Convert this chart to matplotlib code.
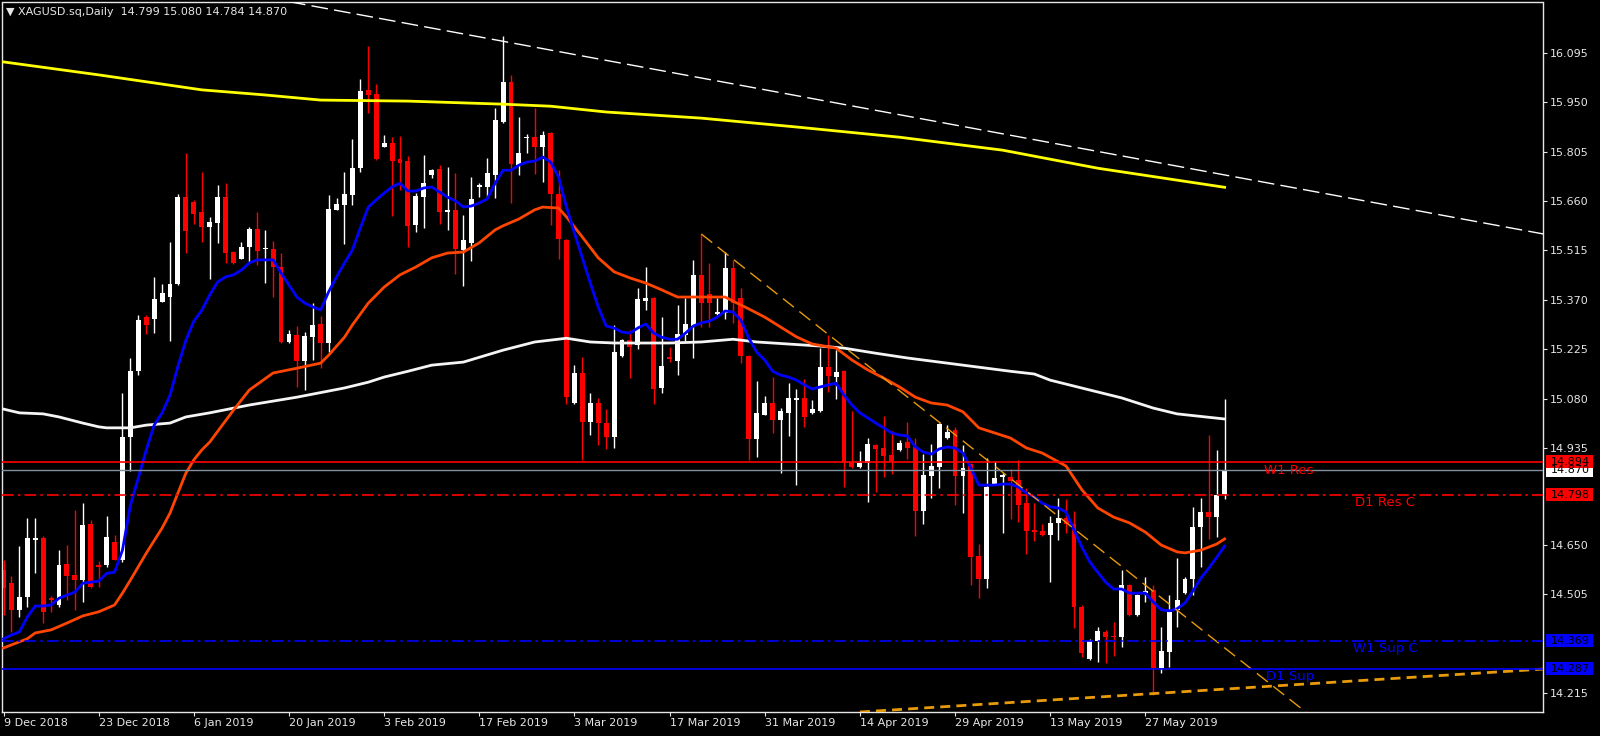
import matplotlib
matplotlib.use('Agg')
import matplotlib.pyplot as plt
import matplotlib.transforms as mtransforms
from matplotlib.patches import Rectangle
import numpy as np

# XAGUSD daily candles (bar 0 = 9 Dec 2018), prices
opens = [14.576, 14.538, 14.460, 14.497, 14.665, 14.670, 14.494, 14.474, 14.594, 14.562,
         14.547, 14.712, 14.591, 14.591, 14.659, 14.606, 14.967, 15.160, 15.319, 15.313,
         15.363, 15.378, 15.416, 15.671, 15.657, 15.628, 15.584, 15.595, 15.671, 15.510,
         15.490, 15.525, 15.578, 15.519, 15.519, 15.466, 15.246, 15.266, 15.190, 15.260,
         15.299, 15.243, 15.634, 15.648, 15.677, 15.756, 15.986, 15.974, 15.818, 15.830,
         15.783, 15.777, 15.590, 15.671, 15.736, 15.753, 15.628, 15.634, 15.516, 15.537,
         15.700, 15.700, 15.736, 15.891, 16.009, 15.765, 15.844, 15.847, 15.818, 15.859,
         15.680, 15.546, 15.067, 15.154, 15.011, 15.067, 15.008, 14.967, 15.204, 15.252,
         15.237, 15.366, 15.375, 15.111, 15.201, 15.190, 15.266, 15.293, 15.443, 15.387,
         15.328, 15.331, 15.463, 15.375, 15.204, 14.961, 15.032, 15.067, 15.017, 15.038,
         15.076, 15.082, 15.038, 15.044, 15.172, 15.143, 15.160, 14.894, 14.879, 14.891,
         14.944, 14.935, 14.914, 14.929, 14.952, 14.938, 14.750, 14.853, 14.879, 14.964,
         14.988, 14.853, 14.888, 14.617, 14.550, 14.829, 14.850, 14.850, 14.841, 14.773,
         14.694, 14.691, 14.679, 14.715, 14.729, 14.712, 14.468, 14.316, 14.369, 14.395,
         14.383, 14.381, 14.532, 14.445, 14.509, 14.518, 14.289, 14.336, 14.460, 14.509,
         14.550, 14.703, 14.747, 14.732, 14.799]
highs = [14.606, 14.559, 14.647, 14.729, 14.729, 14.676, 14.500, 14.635, 14.650, 14.753,
         14.773, 14.723, 14.603, 14.735, 14.679, 15.096, 15.199, 15.325, 15.325, 15.437,
         15.416, 15.540, 15.680, 15.800, 15.663, 15.744, 15.613, 15.706, 15.712, 15.513,
         15.540, 15.584, 15.628, 15.575, 15.543, 15.507, 15.281, 15.293, 15.275, 15.360,
         15.322, 15.677, 15.668, 15.744, 15.842, 16.018, 16.115, 16.003, 15.853, 15.847,
         15.850, 15.792, 15.683, 15.794, 15.753, 15.765, 15.759, 15.742, 15.619, 15.730,
         15.712, 15.786, 15.933, 16.144, 16.030, 15.906, 15.856, 15.933, 15.865, 15.862,
         15.750, 15.549, 15.178, 15.201, 15.096, 15.082, 15.050, 15.296, 15.254, 15.281,
         15.404, 15.466, 15.378, 15.319, 15.231, 15.354, 15.375, 15.487, 15.563, 15.478,
         15.375, 15.510, 15.487, 15.404, 15.207, 15.131, 15.087, 15.143, 15.052, 15.125,
         15.108, 15.137, 15.076, 15.228, 15.266, 15.222, 15.163, 15.044, 14.926, 14.964,
         14.946, 15.029, 14.985, 14.958, 15.011, 14.964, 14.917, 14.946, 15.008, 15.002,
         14.997, 14.944, 14.891, 14.653, 14.905, 14.897, 14.861, 14.873, 14.900, 14.817,
         14.773, 14.712, 14.735, 14.788, 14.785, 14.750, 14.474, 14.375, 14.410, 14.401,
         14.424, 14.576, 14.535, 14.506, 14.556, 14.532, 14.410, 14.503, 14.612, 14.556,
         14.762, 14.788, 14.973, 14.929, 15.080]
lows = [14.445, 14.395, 14.439, 14.468, 14.567, 14.421, 14.454, 14.468, 14.489, 14.460,
        14.483, 14.523, 14.526, 14.585, 14.606, 14.600, 14.867, 15.149, 15.269, 15.272,
        15.363, 15.249, 15.413, 15.507, 15.593, 15.540, 15.431, 15.537, 15.478, 15.475,
        15.490, 15.478, 15.472, 15.419, 15.378, 15.243, 15.243, 15.113, 15.105, 15.193,
        15.169, 15.216, 15.634, 15.534, 15.648, 15.744, 15.918, 15.780, 15.818, 15.616,
        15.692, 15.525, 15.569, 15.581, 15.727, 15.593, 15.575, 15.446, 15.410, 15.484,
        15.671, 15.668, 15.668, 15.888, 15.654, 15.736, 15.800, 15.739, 15.715, 15.590,
        15.490, 15.064, 15.064, 14.900, 14.973, 14.944, 14.932, 14.935, 15.201, 15.140,
        15.225, 15.340, 15.064, 15.096, 15.187, 15.149, 15.249, 15.199, 15.290, 15.290,
        15.325, 15.313, 15.302, 15.184, 14.900, 14.908, 15.032, 14.979, 14.861, 14.970,
        14.826, 14.997, 15.035, 15.041, 15.099, 15.079, 14.820, 14.876, 14.876, 14.776,
        14.805, 14.850, 14.858, 14.926, 14.903, 14.676, 14.712, 14.788, 14.817, 14.961,
        14.767, 14.744, 14.532, 14.494, 14.523, 14.826, 14.685, 14.726, 14.717, 14.623,
        14.662, 14.676, 14.541, 14.665, 14.685, 14.407, 14.321, 14.313, 14.307, 14.304,
        14.324, 14.351, 14.442, 14.442, 14.483, 14.210, 14.274, 14.292, 14.410, 14.506,
        14.503, 14.585, 14.668, 14.673, 14.784]
closes = [14.523, 14.460, 14.497, 14.670, 14.670, 14.454, 14.489, 14.591, 14.559, 14.547,
          14.709, 14.526, 14.585, 14.673, 14.606, 14.967, 15.160, 15.310, 15.296, 15.372,
          15.390, 15.416, 15.671, 15.572, 15.622, 15.584, 15.598, 15.671, 15.507, 15.478,
          15.525, 15.578, 15.513, 15.522, 15.466, 15.246, 15.269, 15.190, 15.263, 15.296,
          15.243, 15.637, 15.651, 15.680, 15.756, 15.983, 15.971, 15.783, 15.830, 15.777,
          15.771, 15.587, 15.674, 15.712, 15.750, 15.628, 15.634, 15.519, 15.546, 15.666,
          15.706, 15.742, 15.897, 16.009, 15.768, 15.800, 15.849, 15.818, 15.853, 15.680,
          15.549, 15.084, 15.154, 15.011, 15.067, 15.008, 14.967, 15.216, 15.252, 15.231,
          15.372, 15.375, 15.108, 15.175, 15.196, 15.269, 15.299, 15.443, 15.360, 15.360,
          15.334, 15.463, 15.360, 15.204, 14.961, 15.038, 15.067, 15.017, 15.044, 15.082,
          15.082, 15.026, 15.050, 15.172, 15.146, 15.157, 14.891, 14.879, 14.891, 14.946,
          14.932, 14.911, 14.897, 14.950, 14.935, 14.750, 14.856, 14.882, 15.005, 14.982,
          14.853, 14.876, 14.614, 14.550, 14.820, 14.847, 14.856, 14.838, 14.767, 14.691,
          14.688, 14.679, 14.715, 14.729, 14.712, 14.468, 14.333, 14.369, 14.398, 14.381,
          14.379, 14.532, 14.445, 14.503, 14.515, 14.289, 14.339, 14.454, 14.489, 14.550,
          14.703, 14.747, 14.732, 14.797, 14.870]

# fast MA (blue), one value per bar
blue_ma = [14.375, 14.386, 14.395, 14.439, 14.471, 14.471, 14.474, 14.494, 14.503, 14.512,
           14.538, 14.541, 14.544, 14.567, 14.570, 14.635, 14.767, 14.847, 14.929, 15.002,
           15.038, 15.090, 15.175, 15.251, 15.307, 15.339, 15.384, 15.422, 15.437, 15.443,
           15.457, 15.478, 15.487, 15.487, 15.487, 15.449, 15.413, 15.378, 15.360, 15.349,
           15.340, 15.393, 15.437, 15.478, 15.516, 15.581, 15.642, 15.663, 15.683, 15.701,
           15.712, 15.689, 15.689, 15.698, 15.701, 15.686, 15.671, 15.660, 15.642, 15.645,
           15.654, 15.666, 15.712, 15.750, 15.750, 15.765, 15.774, 15.777, 15.789, 15.774,
           15.730, 15.642, 15.566, 15.493, 15.419, 15.349, 15.293, 15.287, 15.275, 15.272,
           15.287, 15.299, 15.272, 15.260, 15.254, 15.254, 15.272, 15.293, 15.302, 15.307,
           15.319, 15.337, 15.334, 15.310, 15.257, 15.216, 15.193, 15.160, 15.149, 15.143,
           15.134, 15.120, 15.108, 15.114, 15.120, 15.125, 15.090, 15.061, 15.038, 15.023,
           15.008, 14.994, 14.979, 14.973, 14.970, 14.938, 14.923, 14.917, 14.932, 14.938,
           14.935, 14.920, 14.876, 14.826, 14.826, 14.826, 14.829, 14.829, 14.820, 14.803,
           14.791, 14.773, 14.762, 14.759, 14.747, 14.694, 14.644, 14.600, 14.570, 14.541,
           14.521, 14.521, 14.509, 14.509, 14.509, 14.483, 14.460, 14.457, 14.463, 14.480,
           14.515, 14.553, 14.582, 14.614, 14.647]

# slower MA (orange-red), read at selected bars
orange_bars = [0, 3, 4, 6, 8, 10, 12, 14, 15, 16, 18, 20, 21, 22, 23, 24, 25, 26, 29, 31,
               34, 37, 40, 41, 43, 44, 46, 48, 50, 52, 54, 56, 58, 60, 62, 63, 65, 67, 68, 70,
               71, 73, 75, 77, 79, 81, 83, 85, 87, 89, 91, 92, 94, 96, 98, 100, 102, 105, 107,
               109, 111, 113, 115, 117, 119, 121, 123, 125, 127, 129, 131, 134, 136, 138, 140,
               142, 144, 146, 148, 149, 151, 153, 154]
orange_ma = [14.348, 14.375, 14.392, 14.401, 14.421, 14.442, 14.454, 14.474, 14.509, 14.547,
             14.626, 14.700, 14.744, 14.803, 14.861, 14.900, 14.929, 14.952, 15.046, 15.105,
             15.155, 15.169, 15.184, 15.207, 15.260, 15.296, 15.360, 15.407, 15.443, 15.466,
             15.493, 15.507, 15.510, 15.537, 15.575, 15.587, 15.607, 15.634, 15.642, 15.639,
             15.613, 15.554, 15.493, 15.452, 15.434, 15.419, 15.399, 15.378, 15.378, 15.378,
             15.378, 15.366, 15.343, 15.319, 15.290, 15.261, 15.240, 15.228, 15.193, 15.164,
             15.140, 15.114, 15.084, 15.067, 15.061, 15.041, 14.994, 14.979, 14.964, 14.935,
             14.920, 14.882, 14.812, 14.759, 14.732, 14.715, 14.688, 14.650, 14.630, 14.627,
             14.635, 14.653, 14.668]

# long MA (white)
white_bars = [0, 2, 5, 7, 10, 12, 13, 16, 18, 21, 23, 26, 31, 37, 43, 46, 48, 51, 54, 58,
              63, 67, 71, 74, 77, 80, 84, 88, 92, 95, 99, 103, 106, 110, 114, 118, 123, 127,
              130, 132, 137, 141, 145, 148, 154]
white_ma = [15.049, 15.038, 15.035, 15.026, 15.008, 14.997, 14.994, 14.994, 15.002, 15.008,
            15.026, 15.038, 15.061, 15.084, 15.111, 15.128, 15.143, 15.160, 15.178, 15.187,
            15.222, 15.246, 15.257, 15.246, 15.243, 15.243, 15.243, 15.246, 15.254, 15.246,
            15.240, 15.234, 15.228, 15.213, 15.199, 15.187, 15.172, 15.160, 15.152, 15.134,
            15.105, 15.082, 15.052, 15.035, 15.020]

# longest MA (yellow)
yellow_bars = [0, 12, 25, 33, 40, 51, 63, 69, 76, 88, 100, 113, 126, 138, 154]
yellow_ma = [16.068, 16.030, 15.986, 15.971, 15.956, 15.953, 15.944, 15.938, 15.921, 15.903,
             15.877, 15.847, 15.809, 15.756, 15.700]

# trend lines: (bar, price) end points
tl_white_bars = [36, 194.2]
tl_white_prices = [16.245, 15.563]
tl_down_bars = [88, 164.5]
tl_down_prices = [15.563, 14.155]
tl_up_bars = [108, 194.2]
tl_up_prices = [14.160, 14.286]

# support / resistance levels
levels = [14.894, 14.798, 14.369, 14.287]
level_names = ['W1 Res', 'D1 Res C', 'W1 Sup C', 'D1 Sup']
level_colors = ['#FF0000', '#FF0000', '#0000FF', '#0000FF']
level_styles = ['-', (0, (7, 2.5, 1.5, 2.5)), (0, (7, 2.5, 1.5, 2.5)), '-']
label_bars = [159, 170.4, 170.2, 159.2]
bid = 14.870

yticks = [16.095, 15.950, 15.805, 15.660, 15.515, 15.370, 15.225, 15.080, 14.935,
          14.650, 14.505, 14.215]
tick_bars = [0, 12, 24, 36, 48, 60, 72, 84, 96, 108, 120, 132, 144]
tick_labels = ['9 Dec 2018', '23 Dec 2018', '6 Jan 2019', '20 Jan 2019', '3 Feb 2019',
               '17 Feb 2019', '3 Mar 2019', '17 Mar 2019', '31 Mar 2019', '14 Apr 2019',
               '29 Apr 2019', '13 May 2019', '27 May 2019']

fg = '#E6E6E6'
fig = plt.figure(figsize=(16, 7.36), dpi=100, facecolor='black')
ax = fig.add_axes([2 / 1600, 24 / 736, 1541 / 1600, 709.5 / 736], facecolor='black')

x = np.arange(len(opens))
o = np.array(opens)
c = np.array(closes)
cols = np.where(c >= o, '#FFFFFF', '#FF0000')
bottoms = np.minimum(o, c)
heights = np.maximum(np.abs(c - o), 0.004)

ax.vlines(x, lows, highs, colors=cols, lw=1, zorder=2)
ax.bar(x, heights, bottom=bottoms, width=0.62, color=cols, lw=0, zorder=2)

# moving averages
ax.plot(yellow_bars, yellow_ma, color='#FFFF00', lw=2, zorder=3)
ax.plot(white_bars, white_ma, color='#F5F5F5', lw=2, zorder=3)
ax.plot(orange_bars, orange_ma, color='#FF4500', lw=2, zorder=3)
ax.plot(x, blue_ma, color='#0000FF', lw=2, zorder=3)

# trend lines
ax.plot(tl_white_bars, tl_white_prices, color='white', lw=1, ls=(0, (12, 4.5)), zorder=3)
ax.plot(tl_down_bars, tl_down_prices, color='#E89A0C', lw=1, ls=(0, (10, 5)), zorder=3)
ax.plot(tl_up_bars, tl_up_prices, color='#E89A0C', lw=2, ls=(0, (3.6, 2.2)), zorder=3)

# horizontal levels
ax.axhline(bid, color='#8090A0', lw=1, zorder=4)
for lv, name, col, st, lb in zip(levels, level_names, level_colors, level_styles, label_bars):
    ax.axhline(lv, color=col, lw=1.2, ls=st, zorder=4)
    ax.text(lb, lv - 0.005, name, color=col, fontsize=9.5, va='top', ha='left', zorder=5)

ax.set_xlim(-0.19, 194.15)
ax.set_ylim(14.160, 16.2424)

ax.yaxis.tick_right()
ax.set_yticks(yticks)
ax.set_yticklabels(['%.3f' % t for t in yticks])
ax.set_xticks(tick_bars)
ax.set_xticklabels(tick_labels)
for lab in ax.get_xticklabels():
    lab.set_ha('left')
ax.tick_params(axis='y', colors=fg, labelcolor=fg, labelsize=8, length=3, pad=2)
ax.tick_params(axis='x', colors=fg, labelcolor=fg, labelsize=8, length=3, pad=1)
for sp in ax.spines.values():
    sp.set_color('#E6E6E6')
    sp.set_linewidth(1)

# price boxes on the right axis
tr = mtransforms.blended_transform_factory(ax.transAxes, ax.transData)
box_h = 0.038
box_prices = [bid, levels[0], levels[1], levels[2], levels[3]]
box_faces = ['#FFFFFF', '#FF0000', '#FF0000', '#0000FF', '#0000FF']
for bp, fc in zip(box_prices, box_faces):
    ax.add_patch(Rectangle((1.002, bp - box_h / 2), 0.0305, box_h, transform=tr,
                           facecolor=fc, edgecolor='none', clip_on=False, zorder=6))
    ax.text(1.0175, bp, '%.3f' % bp, transform=tr, color='black', fontsize=8,
            ha='center', va='center', clip_on=False, zorder=7)

fig.text(6 / 1600, 1 - 12 / 736, '\u25bc XAGUSD.sq,Daily  14.799 15.080 14.784 14.870',
         color=fg, fontsize=8, va='center', ha='left')

fig.savefig('out.png', dpi=100, facecolor='black')
